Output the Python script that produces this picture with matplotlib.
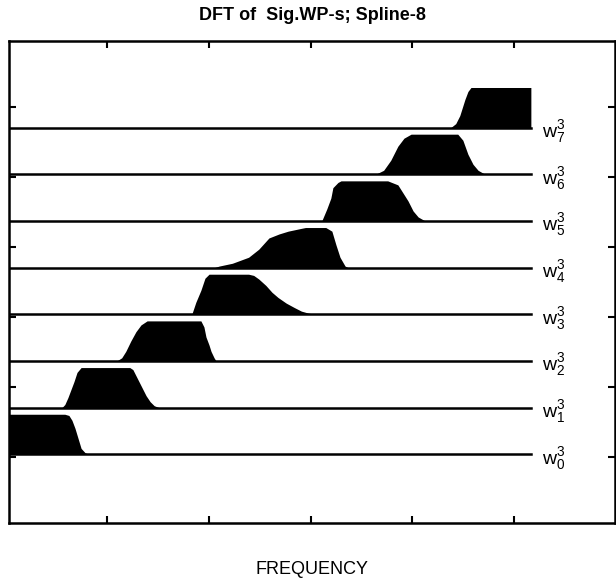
import numpy as np
import matplotlib.pyplot as plt

# frequency axis end (same units as the band shapes below)
freq_max = 517

# band shapes: frequency points and normalised magnitude
w0_f = [0, 58, 62, 65, 68, 71, 74, 78, 82]
w0_m = [1, 1, 0.97, 0.85, 0.65, 0.4, 0.15, 0.04, 0]

w1_f = [55, 58, 61, 64, 67, 70, 74, 122, 125, 128, 131, 134, 138, 142, 146, 151]
w1_m = [0, 0.08, 0.25, 0.45, 0.65, 0.88, 1, 1, 0.95, 0.8, 0.65, 0.5, 0.3, 0.15, 0.05, 0]

w2_f = [109, 114, 118, 123, 128, 133, 139, 192, 195, 197, 200, 202, 205, 207]
w2_m = [0, 0.08, 0.24, 0.5, 0.73, 0.9, 1, 1, 0.85, 0.6, 0.4, 0.24, 0.08, 0]

w3_f = [183, 187, 192, 196, 200, 239, 244, 249, 256, 262, 268, 276, 284, 291, 298, 305]
w3_m = [0, 0.3, 0.6, 0.9, 1, 1, 0.97, 0.88, 0.72, 0.55, 0.42, 0.28, 0.17, 0.08, 0.03, 0]

w4_f = [205, 210, 223, 239, 249, 259, 269, 278, 291, 295, 315, 321, 325, 329, 334, 337]
w4_m = [0, 0.04, 0.11, 0.26, 0.46, 0.74, 0.84, 0.91, 0.98, 1, 1, 0.91, 0.57, 0.26, 0.04, 0]

w5_f = [311, 316, 320, 322, 327, 330, 376, 386, 391, 396, 401, 406, 413]
w5_m = [0, 0.3, 0.57, 0.83, 0.96, 1, 1, 0.9, 0.7, 0.5, 0.25, 0.1, 0]

w6_f = [364, 372, 379, 386, 392, 399, 445, 450, 455, 460, 465, 472]
w6_m = [0, 0.1, 0.35, 0.7, 0.9, 1, 1, 0.85, 0.5, 0.25, 0.1, 0]

w7_f = [438, 443, 447, 452, 455, 458, 517, 517]
w7_m = [0, 0.1, 0.3, 0.7, 0.9, 1, 1, 0]

bands_f = [w0_f, w1_f, w2_f, w3_f, w4_f, w5_f, w6_f, w7_f]
bands_m = [w0_m, w1_m, w2_m, w3_m, w4_m, w5_m, w6_m, w7_m]
labels = [r'$w_{%d}^{3}$' % k for k in range(8)]

floor = 0.06      # small magnitude floor of every band
height = 0.86     # peak magnitude
x_ticks = [100, 200, 300, 400, 500]
y_ticks = [0, 1.5, 3, 4.5, 6, 7.5]

plt.rcParams['font.family'] = ['Liberation Sans', 'DejaVu Sans']
plt.rcParams['mathtext.fontset'] = 'custom'
plt.rcParams['mathtext.rm'] = 'Liberation Sans'
plt.rcParams['mathtext.it'] = 'Liberation Sans'

fig = plt.figure(figsize=(6.16, 5.79), dpi=100)
ax = fig.add_axes([0.0146, 0.0967, 0.984, 0.832])

for k, (f, m) in enumerate(zip(bands_f, bands_m)):
    base = k + floor
    f = np.array(f, dtype=float)
    m = np.array(m, dtype=float)
    ax.fill_between(f, base, base + height * m, color='black', lw=0, zorder=2)
    ax.plot([0, freq_max], [base, base], color='black', lw=1.8, zorder=3)
    ax.text(freq_max + 11, base - 0.08, labels[k], fontsize=14, va='center', ha='left')

ax.set_xlim(3, 600)
ax.set_ylim(-1.41, 8.91)
ax.set_xticks(x_ticks)
ax.set_yticks(y_ticks)
ax.set_xticklabels([])
ax.set_yticklabels([])
ax.tick_params(direction='in', length=5, width=1.5, top=True, right=True)
for s in ax.spines.values():
    s.set_linewidth(1.8)

ax.set_title('DFT of  Sig.WP-s; Spline-8', fontsize=13, fontweight='bold', pad=15)
ax.set_xlabel('FREQUENCY', fontsize=13, labelpad=24)

fig.savefig('out.png', dpi=100)
